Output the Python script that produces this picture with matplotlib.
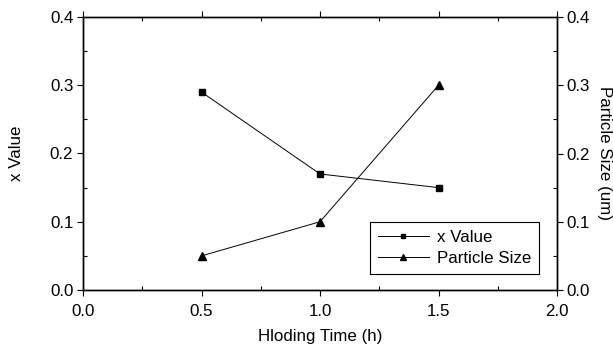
import matplotlib
matplotlib.use("Agg")
import matplotlib.pyplot as plt
from matplotlib.ticker import MultipleLocator

plt.rcParams["font.family"] = ["Liberation Sans", "DejaVu Sans"]
plt.rcParams["font.size"] = 12.2

hold_time = [0.5, 1.0, 1.5]
x_value = [0.29, 0.17, 0.15]
particle_size = [0.05, 0.10, 0.30]

fig = plt.figure(figsize=(6.13, 3.47), dpi=100)
ax = fig.add_axes([83 / 613, 1 - 290 / 347, (557 - 83) / 613, (290 - 17) / 347])
ax2 = ax.twinx()

l1, = ax.plot(hold_time, x_value, color="black", lw=0.7, marker="s", ms=4.5, label="x Value")
l2, = ax2.plot(hold_time, particle_size, color="black", lw=0.7, marker="^", ms=6, label="Particle Size")

for a in (ax, ax2):
    a.set_xlim(0, 2.0)
    a.set_ylim(0, 0.4)
    a.yaxis.set_major_locator(MultipleLocator(0.1))
    a.yaxis.set_minor_locator(MultipleLocator(0.05))
    for s in a.spines.values():
        s.set_linewidth(1.0)

ax.xaxis.set_major_locator(MultipleLocator(0.5))
ax.xaxis.set_minor_locator(MultipleLocator(0.25))
ax.xaxis.set_major_formatter(plt.FormatStrFormatter("%.1f"))
ax.yaxis.set_major_formatter(plt.FormatStrFormatter("%.1f"))
ax2.yaxis.set_major_formatter(plt.FormatStrFormatter("%.1f"))

ax.tick_params(axis="both", which="major", direction="out", length=4, width=0.8, pad=3)
ax.tick_params(axis="both", which="minor", direction="in", length=3, width=0.8)
ax.tick_params(axis="x", which="both", top=True, labeltop=False)
ax.tick_params(axis="x", which="major", pad=6)
ax2.tick_params(axis="y", which="major", direction="out", length=4, width=0.8, pad=3)
ax2.tick_params(axis="y", which="minor", direction="in", length=3, width=0.8)

ax.set_xlabel("Hloding Time (h)", labelpad=7)
ax.set_ylabel("x Value", va="center", ha="center")
ax.yaxis.set_label_coords(-0.141, 0.5)
ax2.set_ylabel("Particle Size (um)", rotation=270, va="center", ha="center")
ax2.yaxis.set_label_coords(1.101, 0.5)

leg = ax2.legend(handles=[l1, l2], loc="lower right", bbox_to_anchor=(0.962, 0.06),
                 fancybox=False, edgecolor="black", framealpha=1, handlelength=3.0,
                 handletextpad=0.5, borderpad=0.45, labelspacing=0.35, markerscale=0.7,
                 borderaxespad=0)
leg.get_frame().set_linewidth(0.8)

fig.savefig("out.png", dpi=100)
